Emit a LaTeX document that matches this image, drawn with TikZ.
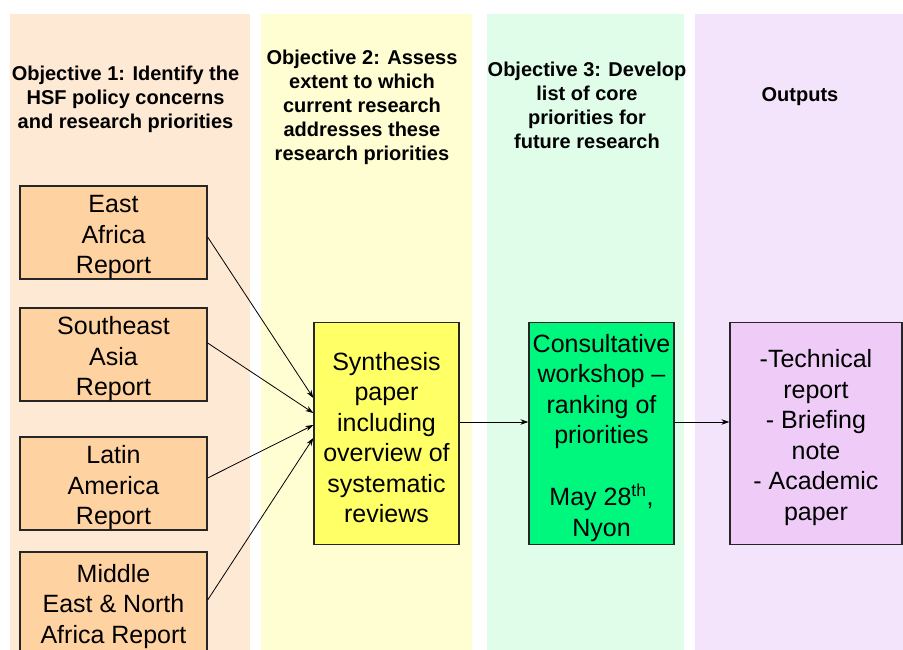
\documentclass[tikz,border=0pt]{standalone}
\usepackage{fontspec}
\setmainfont{Liberation Sans}
\usetikzlibrary{arrows.meta}

\definecolor{bandA}{HTML}{FDE9D4}
\definecolor{bandB}{HTML}{FFFDD2}
\definecolor{bandC}{HTML}{E0FDEA}
\definecolor{bandD}{HTML}{F4E4FB}
\definecolor{reportFill}{HTML}{FFD2A2}
\definecolor{synthFill}{HTML}{FFFF66}
\definecolor{workshopFill}{HTML}{00F77E}
\definecolor{outputFill}{HTML}{EFCCF7}

\newcommand\blockStrut{\rule{0pt}{26.5pt}}

\tikzset{
  heading/.style={font=\fontsize{20}{24}\selectfont\bfseries, align=center, inner sep=0pt},
  block/.style={draw=black!85, line width=1.3pt, align=center, inner sep=0pt, font=\fontsize{25}{30.5}\selectfont},
  flow/.style={-{Stealth[length=8pt,width=5.5pt]}, line width=0.8pt}
}

\def \reportCenterX{113.5}
\def \reportSizeX{187}
\def \reportSizeY{93}
\def \eastCenterY{232.5}
\def \southeastCenterY{354.5}
\def \latinCenterY{483.5}
\def \middleCenterY{602}
\def \stageCenterY{433.5}
\def \stageSizeY{222}
\def \synthCenterX{386.5}
\def \workshopCenterX{601.5}
\def \outputCenterX{816}
\def \stageSizeX{145}

\begin{document}
\begin{tikzpicture}[x=1pt, y=-1pt]
\useasboundingbox (0,0) rectangle (903,650);
\clip (0,0) rectangle (903,650);
\fill[white] (0,0) rectangle (903,650);

% ---- Column bands
\fill[bandA] (10,14) rectangle (250,650);
\fill[bandB] (261,14) rectangle (472,650);
\fill[bandC] (487,14) rectangle (684,650);
\fill[bandD] (695,14) rectangle (903,650);

% ---- Headings
\node[heading] (objA) at (125.5, 99) {Objective 1: Identify the\\HSF policy concerns\\and research priorities};
\node[heading] (objB) at (362, 107) {Objective 2: Assess\\extent to which\\current research\\addresses these\\research priorities};
\node[heading] (objC) at (587, 105) {Objective 3: Develop\\list of core\\priorities for\\future research};
\node[heading] (objD) at (800, 97) {Outputs};

% ---- Reports
\node[block, fill=reportFill, minimum width=\reportSizeX, minimum height=\reportSizeY] (east) at (\reportCenterX, \eastCenterY) {\blockStrut East\\Africa\\Report};
\node[block, fill=reportFill, minimum width=\reportSizeX, minimum height=\reportSizeY] (southeast) at (\reportCenterX, \southeastCenterY) {\blockStrut Southeast\\Asia\\Report};
\node[block, fill=reportFill, minimum width=\reportSizeX, minimum height=\reportSizeY] (latin) at (\reportCenterX, \latinCenterY) {\blockStrut Latin\\America\\Report};
\node[block, fill=reportFill, minimum width=\reportSizeX, minimum height=100] (middle) at (\reportCenterX, \middleCenterY) {\blockStrut Middle\\East \& North\\Africa Report};

% ---- Stages
\node[block, fill=synthFill, minimum width=\stageSizeX, minimum height=\stageSizeY] (synth) at (\synthCenterX, \stageCenterY) {\blockStrut Synthesis\\paper\\including\\overview of\\systematic\\reviews};
\node[block, fill=workshopFill, minimum width=\stageSizeX, minimum height=\stageSizeY] (workshop) at (\workshopCenterX, \stageCenterY) {\blockStrut Consultative\\workshop –\\ranking of\\priorities\\[31.5pt]May 28\textsuperscript{th},\\Nyon};
\node[block, fill=outputFill, minimum width=172, minimum height=\stageSizeY] (output) at (\outputCenterX, \stageCenterY) {\blockStrut -Technical\\report\\- Briefing\\note\\- Academic\\paper};

% Flux
\draw[flow] ([yshift=-4.5pt]east.east) -- ([yshift=35.5pt]synth.west);
\draw[flow] ([yshift=11.5pt]southeast.east) -- ([yshift=20.5pt]synth.west);
\draw[flow] ([yshift=5.5pt]latin.east) -- ([yshift=8.5pt]synth.west);
\draw[flow] ([yshift=2pt]middle.east) -- ([yshift=-4.5pt]synth.west);
\draw[flow] ([yshift=11.5pt]synth.east) -- ([yshift=11.5pt]workshop.west);
\draw[flow] ([yshift=11.5pt]workshop.east) -- ([yshift=11.5pt]output.west);
\end{tikzpicture}
\end{document}
